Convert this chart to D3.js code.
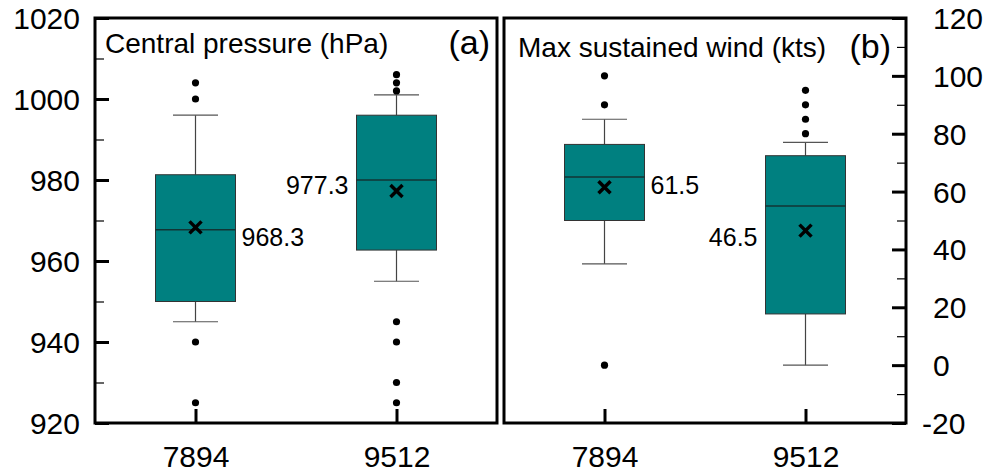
<!DOCTYPE html>
<html>
<head>
<meta charset="utf-8">
<script src="https://cdn.jsdelivr.net/npm/d3@7.9.0/dist/d3.min.js"></script>
<style>
  body { margin: 0; background: #fff; }
  svg { font-family: "Liberation Sans", Arial, sans-serif; }
</style>
</head>
<body>
<div id="chart"></div>
<script>
// categories shared by both panels
const categories = ["7894", "9512"];

// (a) central pressure, hPa
const pressureLow = [945, 955];
const pressureQ1 = [950, 962.7];
const pressureMedian = [967.7, 980];
const pressureQ3 = [981.3, 996];
const pressureHigh = [996, 1001];
const pressureMean = [968.3, 977.3];
const pressureOutliers = [[1004, 1000, 940, 925], [1006, 1004, 1002, 945, 940, 930, 925]];
const pressureMajorTicks = [920, 940, 960, 980, 1000, 1020];
const pressureMinorTicks = [930, 950, 970, 990, 1010];

// (b) max sustained wind, kts
const windLow = [35, 0];
const windQ1 = [50, 17.7];
const windMedian = [65, 55];
const windQ3 = [76.3, 72.4];
const windHigh = [85, 77];
const windMean = [61.5, 46.5];
const windOutliers = [[100, 90, 0], [95, 90, 85, 80]];
const windMajorTicks = [-20, 0, 20, 40, 60, 80, 100, 120];
const windMinorTicks = [-10, 10, 30, 50, 70, 90, 110];

const W = 988, H = 474;
const svg = d3.select("#chart").append("svg")
    .attr("width", W)
    .attr("height", H);

const panelTop = 18, panelBottom = 423, panelW = 402;
const boxW = 80, capW = 45;
const fill = "#008080";

function drawPanel(opts) {
    const g = svg.append("g").attr("transform", `translate(${opts.left},0)`);

    const x = d3.scalePoint().domain(categories).range([0, panelW]).padding(0.5);
    const y = d3.scaleLinear().domain(opts.domain).range([panelBottom, panelTop]);

    // minor ticks
    const minorAxis = (opts.side === "left" ? d3.axisLeft(y) : d3.axisRight(y))
        .tickValues(opts.minor).tickSize(-9).tickFormat("");
    const minorG = g.append("g")
        .attr("transform", `translate(${opts.side === "left" ? 0 : panelW},0)`)
        .call(minorAxis);
    minorG.select(".domain").remove();
    minorG.selectAll("line").attr("stroke", "#000").attr("stroke-width", 1.2);

    // major ticks + labels (plain hyphen, no thousands separator)
    const majorAxis = (opts.side === "left" ? d3.axisLeft(y) : d3.axisRight(y))
        .tickValues(opts.major).tickSize(-14)
        .tickPadding(opts.side === "left" ? 15 : 27)
        .tickFormat(d => String(d));
    const majorG = g.append("g")
        .attr("transform", `translate(${opts.side === "left" ? 0 : panelW},0)`)
        .call(majorAxis);
    majorG.select(".domain").remove();
    majorG.selectAll("line").attr("stroke", "#000").attr("stroke-width", 3);
    majorG.selectAll("text")
        .style("font-size", "30px")
        .attr("fill", "#000")
        .attr("dy", "0.35em")
        .attr("dx", d => d < 0 ? -11 : 0);

    // bottom category axis
    const xg = g.append("g")
        .attr("transform", `translate(0,${panelBottom})`)
        .call(d3.axisBottom(x).tickSize(-14));
    xg.select(".domain").remove();
    xg.selectAll("line").attr("stroke", "#000").attr("stroke-width", 3);
    xg.selectAll("text")
        .style("font-size", "30px")
        .attr("fill", "#000")
        .attr("y", 44)
        .attr("dy", 0);

    // frame
    g.append("rect")
        .attr("x", 0).attr("y", panelTop)
        .attr("width", panelW).attr("height", panelBottom - panelTop)
        .attr("fill", "none").attr("stroke", "#000").attr("stroke-width", 3);

    const rows = categories.map((c, i) => ({
        cat: c, low: opts.low[i], q1: opts.q1[i], med: opts.median[i],
        q3: opts.q3[i], high: opts.high[i], mean: opts.mean[i], out: opts.outliers[i], i
    }));

    const box = g.selectAll(".box").data(rows).enter().append("g").attr("class", "box");

    // whiskers
    box.append("line")
        .attr("x1", d => x(d.cat)).attr("x2", d => x(d.cat))
        .attr("y1", d => y(d.high)).attr("y2", d => y(d.q3))
        .attr("stroke", "#444").attr("stroke-width", 1.2);
    box.append("line")
        .attr("x1", d => x(d.cat)).attr("x2", d => x(d.cat))
        .attr("y1", d => y(d.q1)).attr("y2", d => y(d.low))
        .attr("stroke", "#444").attr("stroke-width", 1.2);
    box.append("line")
        .attr("x1", d => x(d.cat) - capW / 2).attr("x2", d => x(d.cat) + capW / 2)
        .attr("y1", d => y(d.high)).attr("y2", d => y(d.high))
        .attr("stroke", "#555").attr("stroke-width", 1.2);
    box.append("line")
        .attr("x1", d => x(d.cat) - capW / 2).attr("x2", d => x(d.cat) + capW / 2)
        .attr("y1", d => y(d.low)).attr("y2", d => y(d.low))
        .attr("stroke", "#555").attr("stroke-width", 1.2);

    // box
    box.append("rect")
        .attr("x", d => x(d.cat) - boxW / 2)
        .attr("y", d => y(d.q3))
        .attr("width", boxW)
        .attr("height", d => y(d.q1) - y(d.q3))
        .attr("fill", fill)
        .attr("stroke", "#333").attr("stroke-width", 1);

    // median
    box.append("line")
        .attr("x1", d => x(d.cat) - boxW / 2).attr("x2", d => x(d.cat) + boxW / 2)
        .attr("y1", d => y(d.med)).attr("y2", d => y(d.med))
        .attr("stroke", "#123434").attr("stroke-width", 1.5);

    // mean marker
    box.append("path")
        .attr("d", d => {
            const cx = x(d.cat), cy = y(d.mean), s = 6;
            return `M${cx - s},${cy - s}L${cx + s},${cy + s}M${cx - s},${cy + s}L${cx + s},${cy - s}`;
        })
        .attr("stroke", "#000").attr("stroke-width", 3.5).attr("fill", "none");

    // outliers
    box.selectAll("circle")
        .data(d => d.out.map(v => ({ cat: d.cat, v })))
        .enter().append("circle")
        .attr("cx", d => x(d.cat))
        .attr("cy", d => y(d.v))
        .attr("r", 3.6)
        .attr("fill", "#000");

    // mean labels
    box.append("text")
        .attr("x", d => opts.labelSide[d.i] === "right" ? x(d.cat) + boxW / 2 + 6 : x(d.cat) - boxW / 2 - 8)
        .attr("y", d => y(d.mean) + opts.labelDy[d.i])
        .attr("text-anchor", d => opts.labelSide[d.i] === "right" ? "start" : "end")
        .style("font-size", "25px")
        .text(d => d.mean.toFixed(1));

    // titles
    g.append("text")
        .attr("x", opts.titleX)
        .attr("y", opts.titleY)
        .style("font-size", "28px")
        .text(opts.title);
    g.append("text")
        .attr("x", panelW - opts.tagInset)
        .attr("y", opts.titleY + 1)
        .attr("text-anchor", "end")
        .style("font-size", "34px")
        .text(opts.tag);
}

drawPanel({
    left: 95, side: "left", domain: [920, 1020],
    major: pressureMajorTicks, minor: pressureMinorTicks,
    low: pressureLow, q1: pressureQ1, median: pressureMedian, q3: pressureQ3,
    high: pressureHigh, mean: pressureMean, outliers: pressureOutliers,
    labelSide: ["right", "left"], labelDy: [19, 3.5],
    title: "Central pressure (hPa)", titleX: 10, titleY: 53,
    tag: "(a)", tagInset: 7
});

drawPanel({
    left: 504, side: "right", domain: [-20, 120],
    major: windMajorTicks, minor: windMinorTicks,
    low: windLow, q1: windQ1, median: windMedian, q3: windQ3,
    high: windHigh, mean: windMean, outliers: windOutliers,
    labelSide: ["right", "left"], labelDy: [7, 15],
    title: "Max sustained wind (kts)", titleX: 14, titleY: 57,
    tag: "(b)", tagInset: 15
});
</script>
</body>
</html>
